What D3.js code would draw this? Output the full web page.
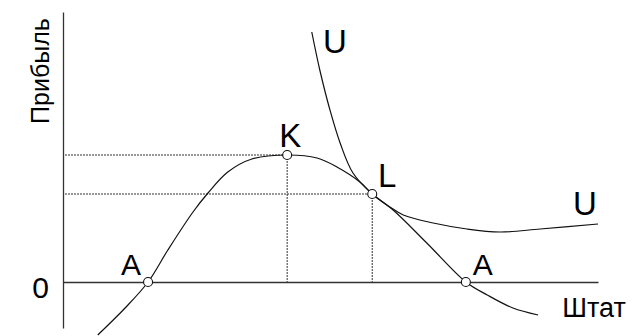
<!DOCTYPE html>
<html>
<head>
<meta charset="utf-8">
<script src="https://cdn.jsdelivr.net/npm/d3@7"></script>
<style>
  body { margin: 0; background: #fff; }
  svg text { font-family: "Liberation Sans", Arial, sans-serif; fill: #000; }
</style>
</head>
<body>
<svg id="chart" width="635" height="336"></svg>
<script>
// profit curve (Штат -> Прибыль)
const profitX = [0.65, 1.16, 1.59, 1.96, 2.43, 2.71, 3.08, 3.53, 4.19, 4.75, 5.12, 5.55, 5.78, 6.17, 6.8, 7.53, 7.93, 8.41, 8.88];
const profitY = [-1.06, -0.52, 0, 0.64, 1.4, 1.78, 2.2, 2.46, 2.54, 2.48, 2.3, 2.0, 1.76, 1.44, 0.78, 0, -0.26, -0.52, -0.66];

// indifference curve U
const uX = [4.65, 4.8, 4.99, 5.18, 5.42, 5.78, 6.11, 6.36, 6.92, 7.55, 8.17, 8.92, 10.0];
const uY = [5.0, 4.24, 3.44, 2.78, 2.18, 1.76, 1.5, 1.34, 1.18, 1.06, 1.0, 1.06, 1.16];

// marked points
const pointNames = ["A", "K", "L", "A"];
const pointX = [1.59, 4.19, 5.78, 7.53];
const pointY = [0, 2.54, 1.76, 0];

const xDomain = [0, 10];
const yDomain = [-0.92, 5.4];
const yTicks = [0];

const svg = d3.select("#chart");
const x = d3.scaleLinear().domain(xDomain).range([63, 598]);
const y = d3.scaleLinear().domain(yDomain).range([328, 12]);

const points = pointNames.map((n, i) => ({ name: n, x: pointX[i], y: pointY[i] }));

// dotted guides for K and L
const guides = points.filter((p) => p.name === "K" || p.name === "L");
const g = svg.append("g");
guides.forEach((p) => {
  g.append("line")
    .attr("x1", x(0) + 2).attr("x2", x(p.x))
    .attr("y1", y(p.y)).attr("y2", y(p.y))
    .attr("stroke", "#333").attr("stroke-width", 1).attr("stroke-dasharray", "2,1");
  g.append("line")
    .attr("x1", x(p.x)).attr("x2", x(p.x))
    .attr("y1", y(p.y)).attr("y2", y(0))
    .attr("stroke", "#333").attr("stroke-width", 1).attr("stroke-dasharray", "2,1");
});

// axes
svg.append("g")
  .attr("transform", `translate(0,${y(0)})`)
  .call(d3.axisBottom(x).tickValues([]).tickSizeOuter(0))
  .call((a) => a.select(".domain").attr("stroke", "#333").attr("stroke-width", 1.3));

svg.append("g")
  .attr("transform", `translate(${x(0)},0)`)
  .call(d3.axisLeft(y).tickValues(yTicks).tickSize(0).tickSizeOuter(0).tickPadding(14).tickFormat(d3.format("d")))
  .call((a) => {
    a.select(".domain").attr("stroke", "#333").attr("stroke-width", 1.3);
    a.selectAll(".tick text").attr("font-size", 30).attr("dy", "0.5em")
      .attr("font-family", "Liberation Sans, Arial, sans-serif").attr("fill", "#222");
  });

const line = d3.line().x((d) => x(d[0])).y((d) => y(d[1])).curve(d3.curveCatmullRom);

svg.append("path")
  .datum(profitX.map((v, i) => [v, profitY[i]]))
  .attr("d", line)
  .attr("fill", "none").attr("stroke", "#111").attr("stroke-width", 1.2);

svg.append("path")
  .datum(uX.map((v, i) => [v, uY[i]]))
  .attr("d", line)
  .attr("fill", "none").attr("stroke", "#111").attr("stroke-width", 1.2);

svg.selectAll("circle.pt")
  .data(points)
  .join("circle")
  .attr("class", "pt")
  .attr("cx", (d) => x(d.x)).attr("cy", (d) => y(d.y)).attr("r", 4.5)
  .attr("fill", "#fff").attr("stroke", "#111").attr("stroke-width", 1.1);

// point labels
const labelOffset = { A: [-17, -7], K: [3, -8], L: [15, -7] };
const labelSize = { A: 30, K: 33, L: 33 };
svg.selectAll("text.pl")
  .data(points)
  .join("text")
  .attr("class", "pl")
  .attr("x", (d) => x(d.x) + labelOffset[d.name][0] + (d.x > 7 ? 34 : 0))
  .attr("y", (d) => y(d.y) + labelOffset[d.name][1])
  .attr("text-anchor", "middle")
  .attr("font-size", (d) => labelSize[d.name])
  .text((d) => d.name);

// curve labels
svg.append("text").attr("x", 335).attr("y", 53).attr("text-anchor", "middle").attr("font-size", 33).attr("fill", "#222").text("U");
svg.append("text").attr("x", 585).attr("y", 215).attr("text-anchor", "middle").attr("font-size", 33).attr("fill", "#222").text("U");

// axis titles
svg.append("text").attr("x", 594).attr("y", 317).attr("text-anchor", "middle").attr("font-size", 27).attr("fill", "#222").text("Штат");
svg.append("text")
  .attr("transform", "translate(49,71) rotate(-90)")
  .attr("text-anchor", "middle")
  .attr("font-size", 25).attr("fill", "#222")
  .text("Прибыль");
</script>
</body>
</html>
